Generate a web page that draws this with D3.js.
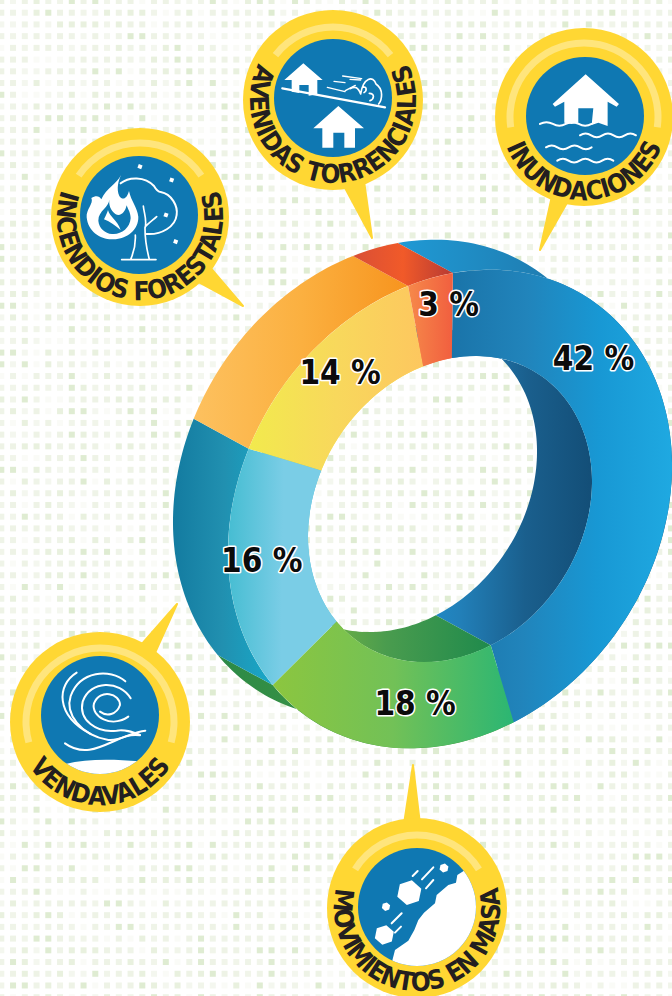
<!DOCTYPE html>
<html>
<head>
<meta charset="utf-8">
<script src="https://cdn.jsdelivr.net/npm/d3@7"></script>
<style>
  html, body { margin: 0; padding: 0; background: #fff; }
  svg { display: block; }
</style>
</head>
<body>
<div id="chart"></div>
<script>
// data
var categories = ["Inundaciones", "Movimientos en masa", "Vendavales", "Incendios forestales", "Avenidas torrenciales"];
var percents = [42, 18, 16, 14, 3];
var percentLabels = ["42 %", "18 %", "16 %", "14 %", "3 %"];

// front face gradients, left to right
var frontColors = [
    ["#1a74a9", "#2184bb", "#1898d4", "#1fa9e1"],
    ["#8cc63f", "#72c157", "#2bb673"],
    ["#46bdd2", "#7acde6", "#7acde6"],
    ["#f2ea4d", "#f8d85c", "#fdc75f"],
    ["#f6894a", "#f15f3f"]
];
// outer wall gradients
var outerWallColors = [
    ["#1f9ad5", "#1f7fb4", "#1a5f8c"],
    ["#2c8a47", "#4f9f3f"],
    ["#137ba0", "#2190b0", "#18a9c9"],
    ["#fdc15f", "#fbb040", "#f7941e"],
    ["#d94f36", "#f15a29", "#b73a33"]
];
// inner wall gradients
var innerWallColors = [
    ["#1e96d6", "#2280b9", "#1a5f8d", "#134e77"],
    ["#8dc13f", "#4a9c4e", "#1f8a4c"],
    ["#46bdd2", "#46bdd2"],
    ["#f2ea4d", "#f2ea4d"],
    ["#f6894a", "#f6894a"]
];

var W = 672, H = 996;
var cx = 450, cy = 509;
var rOuter = 222, rInner = 142;
// ring is sheared, this maps ring coords to the page
var shear = {a: 1, b: -0.18, c: -0.013, d: 1.063};
// how far back the extruded side goes
var depth = {x: -55, y: -30};

// where each label sits inside its slice
var labelAlong = [0.31, 0.40, 0.53, 0.53, 0.90];
var labelRadius = [0.83, 0.81, 0.85, 0.835, 0.87];

var svg = d3.select("#chart").append("svg")
    .attr("width", W)
    .attr("height", H)
    .attr("viewBox", "0 0 " + W + " " + H);

var defs = svg.append("defs");

// dotted background
var dotShades = ["#eef3e6", "#eef3e6", "#eff4e8", "#f1f5ea", "#e9f1df", "#dfecd2", "#fafbf7", "#f4f7ef"];
var bg = svg.append("g");
d3.range(58).forEach(function(col) {
    d3.range(86).forEach(function(row) {
        var h = Math.abs(Math.sin(col * 12.9898 + row * 78.233) * 43758.5453);
        bg.append("rect")
            .attr("x", 1.3 + col * 11.75 - 3)
            .attr("y", 1 + row * 11.72 - 3)
            .attr("width", 6)
            .attr("height", 6)
            .attr("fill", dotShades[Math.floor((h % 1) * dotShades.length)]);
    });
});

function gradient(id, stops) {
    var g = defs.append("linearGradient").attr("id", id)
        .attr("x1", 0).attr("x2", 1).attr("y1", 0).attr("y2", 0);
    stops.forEach(function(c, i) {
        g.append("stop")
            .attr("offset", i / (stops.length - 1))
            .attr("stop-color", c);
    });
}

var pie = d3.pie().sort(null).value(function(d) { return d; });
var slices = pie(percents);

var arc = d3.arc().innerRadius(rInner).outerRadius(rOuter);

var ring = svg.append("g")
    .attr("transform", "matrix(" + [shear.a, shear.b, shear.c, shear.d, cx, cy].join(",") + ")");

// side wall of a slice: its arc plus the same arc pushed back
function wallPath(d, r) {
    var n = Math.max(6, Math.ceil((d.endAngle - d.startAngle) * 40));
    var front = d3.range(n + 1).map(function(i) {
        return d3.pointRadial(d.startAngle + (d.endAngle - d.startAngle) * i / n, r);
    });
    // depth is in page pixels, take it back through the shear
    var det = shear.a * shear.d - shear.b * shear.c;
    var ox = (shear.d * depth.x - shear.c * depth.y) / det;
    var oy = (shear.a * depth.y - shear.b * depth.x) / det;
    var back = front.slice().reverse().map(function(p) { return [p[0] + ox, p[1] + oy]; });
    return d3.line()(front.concat(back)) + "Z";
}

slices.forEach(function(d, i) {
    gradient("outer" + i, outerWallColors[i]);
    gradient("inner" + i, innerWallColors[i]);
    gradient("front" + i, frontColors[i]);
});

ring.selectAll("path.outer-wall")
    .data(slices)
    .enter().append("path")
    .attr("class", "outer-wall")
    .attr("d", function(d) { return wallPath(d, rOuter); })
    .attr("fill", function(d, i) { return "url(#outer" + i + ")"; });

ring.selectAll("path.inner-wall")
    .data(slices)
    .enter().append("path")
    .attr("class", "inner-wall")
    .attr("d", function(d) { return wallPath(d, rInner); })
    .attr("fill", function(d, i) { return "url(#inner" + i + ")"; });

ring.selectAll("path.front")
    .data(slices)
    .enter().append("path")
    .attr("class", "front")
    .attr("d", arc)
    .attr("fill", function(d, i) { return "url(#front" + i + ")"; });

// percent labels
svg.selectAll("text.pct")
    .data(slices)
    .enter().append("text")
    .attr("class", "pct")
    .attr("transform", function(d, i) {
        var a = d.startAngle + (d.endAngle - d.startAngle) * labelAlong[i];
        var p = d3.pointRadial(a, rOuter * labelRadius[i]);
        var x = cx + shear.a * p[0] + shear.c * p[1];
        var y = cy + shear.b * p[0] + shear.d * p[1];
        return "translate(" + x + "," + y + ")";
    })
    .attr("text-anchor", "middle")
    .attr("dy", "0.36em")
    .attr("font-family", "'DejaVu Sans Condensed', 'DejaVu Sans', sans-serif")
    .attr("font-weight", "bold")
    .attr("font-size", 33)
    .attr("fill", "#0b0b0b")
    .attr("stroke", "#fff")
    .attr("stroke-width", 3)
    .attr("stroke-linejoin", "round")
    .attr("paint-order", "stroke")
    .text(function(d, i) { return percentLabels[i]; });

// callout badges, icon paths are in 3x crop coords around each origin
var yellow = "#ffd733", shine = "#ffe57c", badgeBlue = "#0f78b2", ink = "#231f20";

var badges = [
    {name: "INUNDACIONES", c: [584, 117], R: 89, blue: [585, 116], shineR: 74, shineFrom: -98, shineTo: 98,
     tail: [[552, 196], [568, 201], [540, 250]], span: 138, origin: [230, 0], icon: iconFlood},
    {name: "MOVIMIENTOS EN MASA", c: [417, 908], R: 90, blue: [417, 907], shineR: 73, shineFrom: -58, shineTo: 58,
     tail: [[404, 824], [420, 824], [413, 765]], span: 208, origin: [320, 760], icon: iconLandslide},
    {name: "VENDAVALES", c: [100, 722], R: 90, blue: [100, 715], shineR: 74, shineFrom: -106, shineTo: 106,
     tail: [[141, 645], [154, 655], [177, 604]], span: 116, origin: [0, 600], icon: iconWind},
    {name: "INCENDIOS FORESTALES", c: [140, 217], R: 89, blue: [139, 215], shineR: 74, shineFrom: -56, shineTo: 56,
     tail: [[195, 280], [208, 265], [243, 306]], span: 218, origin: [30, 120], icon: iconFire},
    {name: "AVENIDAS TORRENCIALES", c: [333, 100], R: 90, blue: [333, 98], shineR: 73, shineFrom: -52, shineTo: 52,
     tail: [[344, 186], [364, 181], [372, 238]], span: 232, origin: [230, 0], icon: iconTorrent}
];

function white(g, d) {
    return g.append("path").attr("d", d).attr("fill", "#fff");
}
function line(g, d, w) {
    return g.append("path").attr("d", d).attr("fill", "none")
        .attr("stroke", "#fff").attr("stroke-width", w || 7).attr("stroke-linecap", "round");
}
function wave(x0, x1, y, n) {
    var step = (x1 - x0) / n, s = "M" + x0 + " " + y + "Q" + (x0 + step / 2) + " " + (y - 11) + " " + (x0 + step) + " " + y;
    for (var i = 2; i <= n; i++) s += "T" + (x0 + step * i) + " " + y;
    return s;
}

function iconFlood(g) {
    white(g, "M1067 223L1167 312L1160 320L1133 305L1133 378L1105 368L1085 375L1090 325L1045 325L1045 368L1025 372L1003 368L1003 305L975 320L968 312Z");
    line(g, wave(930, 1085, 372, 4), 6);
    line(g, wave(1050, 1218, 406, 5), 6);
    line(g, wave(948, 1085, 442, 4), 6);
    line(g, wave(982, 1150, 482, 5), 6);
}
function iconTorrent(g) {
    white(g, "M220 190L278 240L262 240L262 283L236 287L236 255L208 255L208 279L185 275L185 240L163 240Z");
    white(g, "M325 318L402 385L375 385L375 443L343 443L343 398L310 398L310 443L277 443L277 385L250 385Z");
    line(g, "M157 265L465 322", 7);
    line(g, "M392 282C400 232 430 226 438 252C462 268 456 300 446 312M392 282C384 262 376 258 360 266M398 262C410 258 412 272 402 278M418 280C436 280 432 298 420 302", 5);
    line(g, "M312 244L345 248M338 228L395 236M292 262L345 275M346 272L376 256M360 238L392 240", 4);
}
function iconFire(g) {
    white(g, "M273 165C262 190 228 205 214 238C208 228 198 226 184 234C192 250 168 268 170 292C174 335 212 360 250 358C292 356 326 330 325 290C322 262 304 245 297 213C292 232 280 245 268 228C258 205 266 182 273 165Z");
    g.append("path").attr("fill", badgeBlue)
        .attr("d", "M238 238C238 262 205 272 205 302C207 325 225 340 246 342C272 345 300 325 302 295C302 278 294 268 290 256C286 275 272 292 256 282C242 272 236 255 238 238Z");
    white(g, "M222 298C228 285 232 278 234 270C238 290 262 300 272 330C258 318 240 305 222 298Z");
    line(g, "M272 190C295 170 345 168 372 198C380 212 385 216 392 216C425 222 444 258 440 285C436 320 395 345 350 342", 6);
    line(g, "M316 345C318 380 310 400 302 418M275 419L378 419M340 258C342 280 352 300 345 325C345 365 352 395 358 418M345 322C352 312 372 298 380 290", 5);
    [[330, 140], [425, 180], [408, 285], [437, 365]].forEach(function(p) {
        g.append("rect").attr("x", p[0] - 6).attr("y", p[1] - 6).attr("width", 12).attr("height", 12)
            .attr("fill", "#fff").attr("transform", "rotate(20 " + p[0] + " " + p[1] + ")");
    });
}
function iconWind(g) {
    g.append("path").attr("fill", "#fff")
        .attr("d", "M196 492C260 476 340 478 418 484L440 530L180 530Z");
    line(g, "M230 218C170 255 165 345 272 402", 6);
    line(g, "M376 244C330 205 240 212 212 288C195 340 240 405 325 420C360 425 395 395 436 392", 6);
    line(g, "M392 295C360 240 270 240 248 305C235 360 290 400 350 392C375 388 395 395 420 405", 6);
    line(g, "M300 335C320 350 350 345 360 315C360 280 300 265 282 310C272 350 335 385 385 350", 6);
    line(g, "M195 430C250 470 300 442 350 420C378 406 398 402 420 406", 6);
}
function iconLandslide(g) {
    g.append("path").attr("fill", "#fff")
        .attr("d", "M432 332L412 345L408 368L385 375L350 405L345 430L312 458L295 480L283 510L265 542L225 570L216 605L300 640L480 600L490 400Z");
    function hex(x, y, r) {
        var pts = d3.range(6).map(function(i) {
            return d3.pointRadial(i * Math.PI / 3 + 0.2, r).map(function(v, k) { return v + (k ? y : x); });
        });
        white(g, d3.line()(pts) + "Z");
    }
    hex(268, 398, 38);
    hex(198, 440, 13);
    hex(372, 324, 14);
    hex(193, 525, 30);
    line(g, "M278 348L293 333M306 358L340 322M318 385L340 360M215 490L245 460M225 518L243 500", 6);
}

var badgeGroups = svg.selectAll("g.badge")
    .data(badges)
    .enter().append("g")
    .attr("class", "badge");

badgeGroups.each(function(b, i) {
    var g = d3.select(this);

    g.append("path")
        .attr("d", d3.line()(b.tail) + "Z")
        .attr("fill", yellow)
        .attr("stroke", yellow)
        .attr("stroke-width", 2)
        .attr("stroke-linejoin", "round");

    g.append("circle")
        .attr("cx", b.c[0]).attr("cy", b.c[1]).attr("r", b.R)
        .attr("fill", yellow);

    g.append("path")
        .attr("transform", "translate(" + b.c[0] + "," + b.c[1] + ")")
        .attr("d", d3.arc()({
            innerRadius: b.shineR - 3.5,
            outerRadius: b.shineR + 3.5,
            startAngle: b.shineFrom * Math.PI / 180,
            endAngle: b.shineTo * Math.PI / 180
        }))
        .attr("fill", shine);

    defs.append("clipPath").attr("id", "disc" + i)
        .append("circle")
        .attr("cx", b.blue[0]).attr("cy", b.blue[1]).attr("r", 59);

    g.append("circle")
        .attr("cx", b.blue[0]).attr("cy", b.blue[1]).attr("r", 59)
        .attr("fill", badgeBlue);

    var icon = g.append("g")
        .attr("clip-path", "url(#disc" + i + ")")
        .append("g")
        .attr("transform", "translate(" + b.origin[0] + "," + b.origin[1] + ") scale(0.3333)");
    b.icon(icon);

    // curved name, full circle path starting at top and going counter clockwise
    var r = 83;
    defs.append("path").attr("id", "curve" + i)
        .attr("d", "M" + b.c[0] + " " + (b.c[1] - r) +
            "A" + r + " " + r + " 0 1 0 " + b.c[0] + " " + (b.c[1] + r) +
            "A" + r + " " + r + " 0 1 0 " + b.c[0] + " " + (b.c[1] - r));

    var t = g.append("text")
        .attr("font-family", "'Liberation Sans Narrow', 'DejaVu Sans Condensed', sans-serif")
        .attr("font-weight", "bold")
        .attr("font-size", 26)
        .attr("fill", ink)
        .attr("text-anchor", "middle");
    var tp = t.append("textPath")
        .attr("href", "#curve" + i)
        .attr("startOffset", "50%")
        .text(b.name);

    // spread the letters to cover the same span as the original
    var natural = t.node().getComputedTextLength();
    var target = b.span * Math.PI / 180 * r;
    t.attr("letter-spacing", (target - natural) / b.name.length);
});
</script>
</body>
</html>
